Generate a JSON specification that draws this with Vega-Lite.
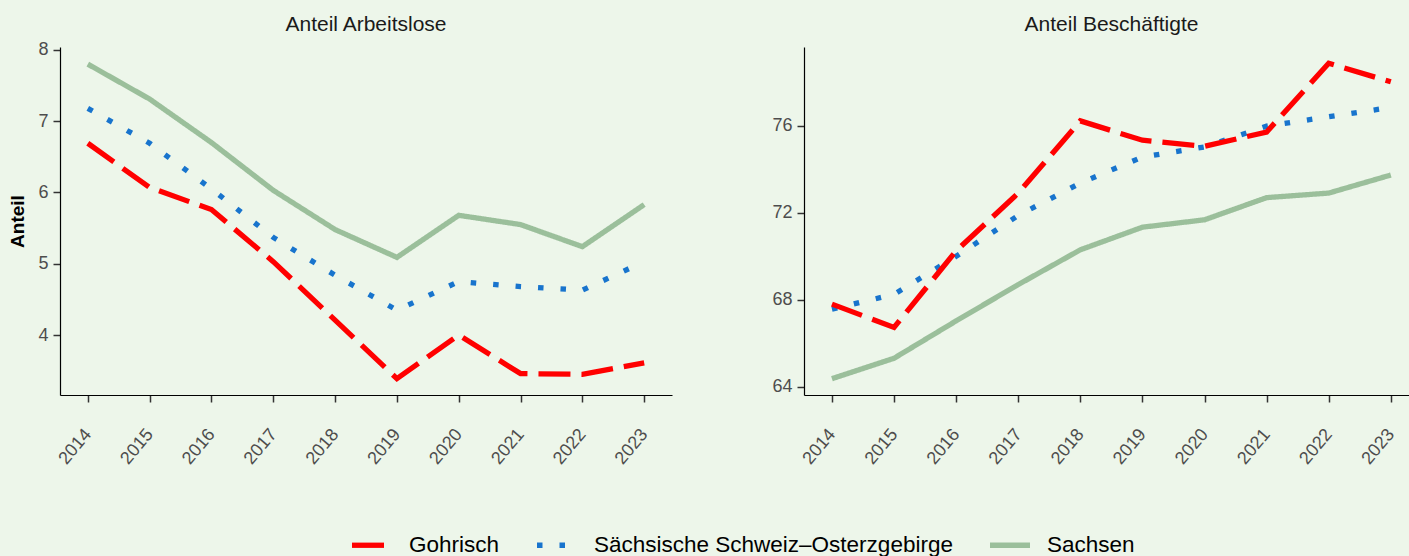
{
  "$schema": "https://vega.github.io/schema/vega-lite/v6.json",
  "background": "#EDF6EA",
  "padding": {"left": 8, "top": 13, "right": 0, "bottom": 0},
  "config": {
    "view": {"stroke": null},
    "font": "Liberation Sans",
    "axis": {
      "grid": false,
      "domainColor": "#000000",
      "domainWidth": 1.2,
      "tickColor": "#333333",
      "tickWidth": 1.5,
      "tickSize": 7,
      "labelFont": "Liberation Sans",
      "labelFontSize": 18,
      "labelColor": "#4D4D4D",
      "labelPadding": 5
    },
    "title": {"font": "Liberation Sans", "fontSize": 21, "fontWeight": "normal", "color": "#1A1A1A"}
  },
  "datasets": {
    "d": [
      {"panel": "A", "jahr": 2014, "region": "Sachsen", "wert": 7.80},
      {"panel": "A", "jahr": 2015, "region": "Sachsen", "wert": 7.31},
      {"panel": "A", "jahr": 2016, "region": "Sachsen", "wert": 6.70},
      {"panel": "A", "jahr": 2017, "region": "Sachsen", "wert": 6.03},
      {"panel": "A", "jahr": 2018, "region": "Sachsen", "wert": 5.48},
      {"panel": "A", "jahr": 2019, "region": "Sachsen", "wert": 5.09},
      {"panel": "A", "jahr": 2020, "region": "Sachsen", "wert": 5.68},
      {"panel": "A", "jahr": 2021, "region": "Sachsen", "wert": 5.55},
      {"panel": "A", "jahr": 2022, "region": "Sachsen", "wert": 5.24},
      {"panel": "A", "jahr": 2023, "region": "Sachsen", "wert": 5.83},
      {"panel": "A", "jahr": 2014, "region": "Sächsische Schweiz–Osterzgebirge", "wert": 7.18},
      {"panel": "A", "jahr": 2015, "region": "Sächsische Schweiz–Osterzgebirge", "wert": 6.69},
      {"panel": "A", "jahr": 2016, "region": "Sächsische Schweiz–Osterzgebirge", "wert": 6.05},
      {"panel": "A", "jahr": 2017, "region": "Sächsische Schweiz–Osterzgebirge", "wert": 5.37},
      {"panel": "A", "jahr": 2018, "region": "Sächsische Schweiz–Osterzgebirge", "wert": 4.84},
      {"panel": "A", "jahr": 2019, "region": "Sächsische Schweiz–Osterzgebirge", "wert": 4.35},
      {"panel": "A", "jahr": 2020, "region": "Sächsische Schweiz–Osterzgebirge", "wert": 4.75},
      {"panel": "A", "jahr": 2021, "region": "Sächsische Schweiz–Osterzgebirge", "wert": 4.68},
      {"panel": "A", "jahr": 2022, "region": "Sächsische Schweiz–Osterzgebirge", "wert": 4.63},
      {"panel": "A", "jahr": 2023, "region": "Sächsische Schweiz–Osterzgebirge", "wert": 5.03},
      {"panel": "A", "jahr": 2014, "region": "Gohrisch", "wert": 6.69},
      {"panel": "A", "jahr": 2015, "region": "Gohrisch", "wert": 6.07},
      {"panel": "A", "jahr": 2016, "region": "Gohrisch", "wert": 5.76},
      {"panel": "A", "jahr": 2017, "region": "Gohrisch", "wert": 5.03},
      {"panel": "A", "jahr": 2018, "region": "Gohrisch", "wert": 4.21},
      {"panel": "A", "jahr": 2019, "region": "Gohrisch", "wert": 3.39},
      {"panel": "A", "jahr": 2020, "region": "Gohrisch", "wert": 4.00},
      {"panel": "A", "jahr": 2021, "region": "Gohrisch", "wert": 3.46},
      {"panel": "A", "jahr": 2022, "region": "Gohrisch", "wert": 3.45},
      {"panel": "A", "jahr": 2023, "region": "Gohrisch", "wert": 3.61},
      {"panel": "B", "jahr": 2014, "region": "Sachsen", "wert": 64.37},
      {"panel": "B", "jahr": 2015, "region": "Sachsen", "wert": 65.31},
      {"panel": "B", "jahr": 2016, "region": "Sachsen", "wert": 67.03},
      {"panel": "B", "jahr": 2017, "region": "Sachsen", "wert": 68.70},
      {"panel": "B", "jahr": 2018, "region": "Sachsen", "wert": 70.30},
      {"panel": "B", "jahr": 2019, "region": "Sachsen", "wert": 71.34},
      {"panel": "B", "jahr": 2020, "region": "Sachsen", "wert": 71.68},
      {"panel": "B", "jahr": 2021, "region": "Sachsen", "wert": 72.70},
      {"panel": "B", "jahr": 2022, "region": "Sachsen", "wert": 72.91},
      {"panel": "B", "jahr": 2023, "region": "Sachsen", "wert": 73.74},
      {"panel": "B", "jahr": 2014, "region": "Sächsische Schweiz–Osterzgebirge", "wert": 67.57},
      {"panel": "B", "jahr": 2015, "region": "Sächsische Schweiz–Osterzgebirge", "wert": 68.25},
      {"panel": "B", "jahr": 2016, "region": "Sächsische Schweiz–Osterzgebirge", "wert": 70.0},
      {"panel": "B", "jahr": 2017, "region": "Sächsische Schweiz–Osterzgebirge", "wert": 71.88},
      {"panel": "B", "jahr": 2018, "region": "Sächsische Schweiz–Osterzgebirge", "wert": 73.37},
      {"panel": "B", "jahr": 2019, "region": "Sächsische Schweiz–Osterzgebirge", "wert": 74.57},
      {"panel": "B", "jahr": 2020, "region": "Sächsische Schweiz–Osterzgebirge", "wert": 75.03},
      {"panel": "B", "jahr": 2021, "region": "Sächsische Schweiz–Osterzgebirge", "wert": 75.99},
      {"panel": "B", "jahr": 2022, "region": "Sächsische Schweiz–Osterzgebirge", "wert": 76.42},
      {"panel": "B", "jahr": 2023, "region": "Sächsische Schweiz–Osterzgebirge", "wert": 76.85},
      {"panel": "B", "jahr": 2014, "region": "Gohrisch", "wert": 67.80},
      {"panel": "B", "jahr": 2015, "region": "Gohrisch", "wert": 66.73},
      {"panel": "B", "jahr": 2016, "region": "Gohrisch", "wert": 70.25},
      {"panel": "B", "jahr": 2017, "region": "Gohrisch", "wert": 72.91},
      {"panel": "B", "jahr": 2018, "region": "Gohrisch", "wert": 76.23},
      {"panel": "B", "jahr": 2019, "region": "Gohrisch", "wert": 75.34},
      {"panel": "B", "jahr": 2020, "region": "Gohrisch", "wert": 75.06},
      {"panel": "B", "jahr": 2021, "region": "Gohrisch", "wert": 75.72},
      {"panel": "B", "jahr": 2022, "region": "Gohrisch", "wert": 78.88},
      {"panel": "B", "jahr": 2023, "region": "Gohrisch", "wert": 78.03}
    ]
  },
  "spacing": 99,
  "resolve": {"scale": {"x": "independent", "y": "independent", "color": "shared", "strokeDash": "shared"}},
  "hconcat": [
    {
      "width": 612,
      "height": 348,
      "title": {"text": "Anteil Arbeitslose", "frame": "group", "anchor": "middle", "baseline": "alphabetic", "offset": -11},
      "data": {"name": "d"},
      "transform": [{"filter": "datum.panel == 'A'"}],
      "mark": {"type": "line", "strokeWidth": 5.3, "strokeCap": "butt", "strokeJoin": "miter"},
      "encoding": {
        "x": {
          "field": "jahr", "type": "quantitative",
          "scale": {"domain": [2013.55, 2023.45], "nice": false, "zero": false},
          "axis": {"title": null, "values": [2014, 2015, 2016, 2017, 2018, 2019, 2020, 2021, 2022, 2023], "format": "d",
                   "labelAngle": -50, "labelAlign": "right", "labelBaseline": "middle", "labelPadding": 29}
        },
        "y": {
          "field": "wert", "type": "quantitative",
          "scale": {"domain": [3.16, 8.04], "nice": false, "zero": false},
          "axis": {"title": "Anteil", "titleFontWeight": "bold", "titleFontSize": 19, "titleColor": "#000000",
                   "titleFont": "Liberation Sans", "titlePadding": 5, "minExtent": 28, "maxExtent": 28,
                   "values": [4, 5, 6, 7, 8]}
        },
        "color": {
          "field": "region", "type": "nominal",
          "scale": {"domain": ["Gohrisch", "Sächsische Schweiz–Osterzgebirge", "Sachsen"], "range": ["#FF0000", "#1874CD", "#9BBF9B"]},
          "legend": {
            "title": null, "orient": "none", "direction": "horizontal", "legendX": 289, "legendY": 475,
            "symbolType": "stroke", "symbolSize": 1600, "symbolStrokeWidth": 5.3,
            "labelFontSize": 22.5, "labelFont": "Liberation Sans", "labelColor": "#000000", "labelLimit": 0,
            "labelOffset": 14, "columnPadding": 26, "padding": 0,
            "encode": {"symbols": {"update": {
              "stroke": {"signal": "datum.value == 'Gohrisch' ? '#FF0000' : datum.value == 'Sachsen' ? '#9BBF9B' : '#1874CD'"},
              "strokeWidth": {"value": 5.3},
              "opacity": {"value": 1},
              "strokeDash": {"signal": "datum.value == 'Gohrisch' ? [11, 12, 14, 3] : datum.value == 'Sachsen' ? [1, 0] : [6, 19]"}
            }}}
          }
        },
        "strokeDash": {
          "field": "region", "type": "nominal",
          "scale": {"domain": ["Gohrisch", "Sächsische Schweiz–Osterzgebirge", "Sachsen"], "range": [[32, 11], [5.5, 17], [1, 0]]},
          "legend": {
            "title": null, "orient": "none", "direction": "horizontal", "legendX": 289, "legendY": 475,
            "symbolType": "stroke", "symbolSize": 1600, "symbolStrokeWidth": 5.3,
            "labelFontSize": 22.5, "labelFont": "Liberation Sans", "labelColor": "#000000", "labelLimit": 0,
            "labelOffset": 14, "columnPadding": 26, "padding": 0,
            "encode": {"symbols": {"update": {
              "stroke": {"signal": "datum.value == 'Gohrisch' ? '#FF0000' : datum.value == 'Sachsen' ? '#9BBF9B' : '#1874CD'"},
              "strokeWidth": {"value": 5.3},
              "opacity": {"value": 1},
              "strokeDash": {"signal": "datum.value == 'Gohrisch' ? [11, 12, 14, 3] : datum.value == 'Sachsen' ? [1, 0] : [6, 19]"}
            }}}
          }
        }
      }
    },
    {
      "width": 607,
      "height": 348,
      "title": {"text": "Anteil Beschäftigte", "frame": "group", "anchor": "middle", "baseline": "alphabetic", "offset": -5, "dx": 4},
      "data": {"name": "d"},
      "transform": [{"filter": "datum.panel == 'B'"}],
      "mark": {"type": "line", "strokeWidth": 5.3, "strokeCap": "butt", "strokeJoin": "miter"},
      "encoding": {
        "x": {
          "field": "jahr", "type": "quantitative",
          "scale": {"domain": [2013.55, 2023.325], "nice": false, "zero": false},
          "axis": {"title": null, "values": [2014, 2015, 2016, 2017, 2018, 2019, 2020, 2021, 2022, 2023], "format": "d",
                   "labelAngle": -50, "labelAlign": "right", "labelBaseline": "middle", "labelPadding": 29}
        },
        "y": {
          "field": "wert", "type": "quantitative",
          "scale": {"domain": [63.62, 79.63], "nice": false, "zero": false},
          "axis": {"title": null, "values": [64, 68, 72, 76]}
        },
        "color": {"field": "region", "type": "nominal"},
        "strokeDash": {"field": "region", "type": "nominal"}
      }
    }
  ]
}
